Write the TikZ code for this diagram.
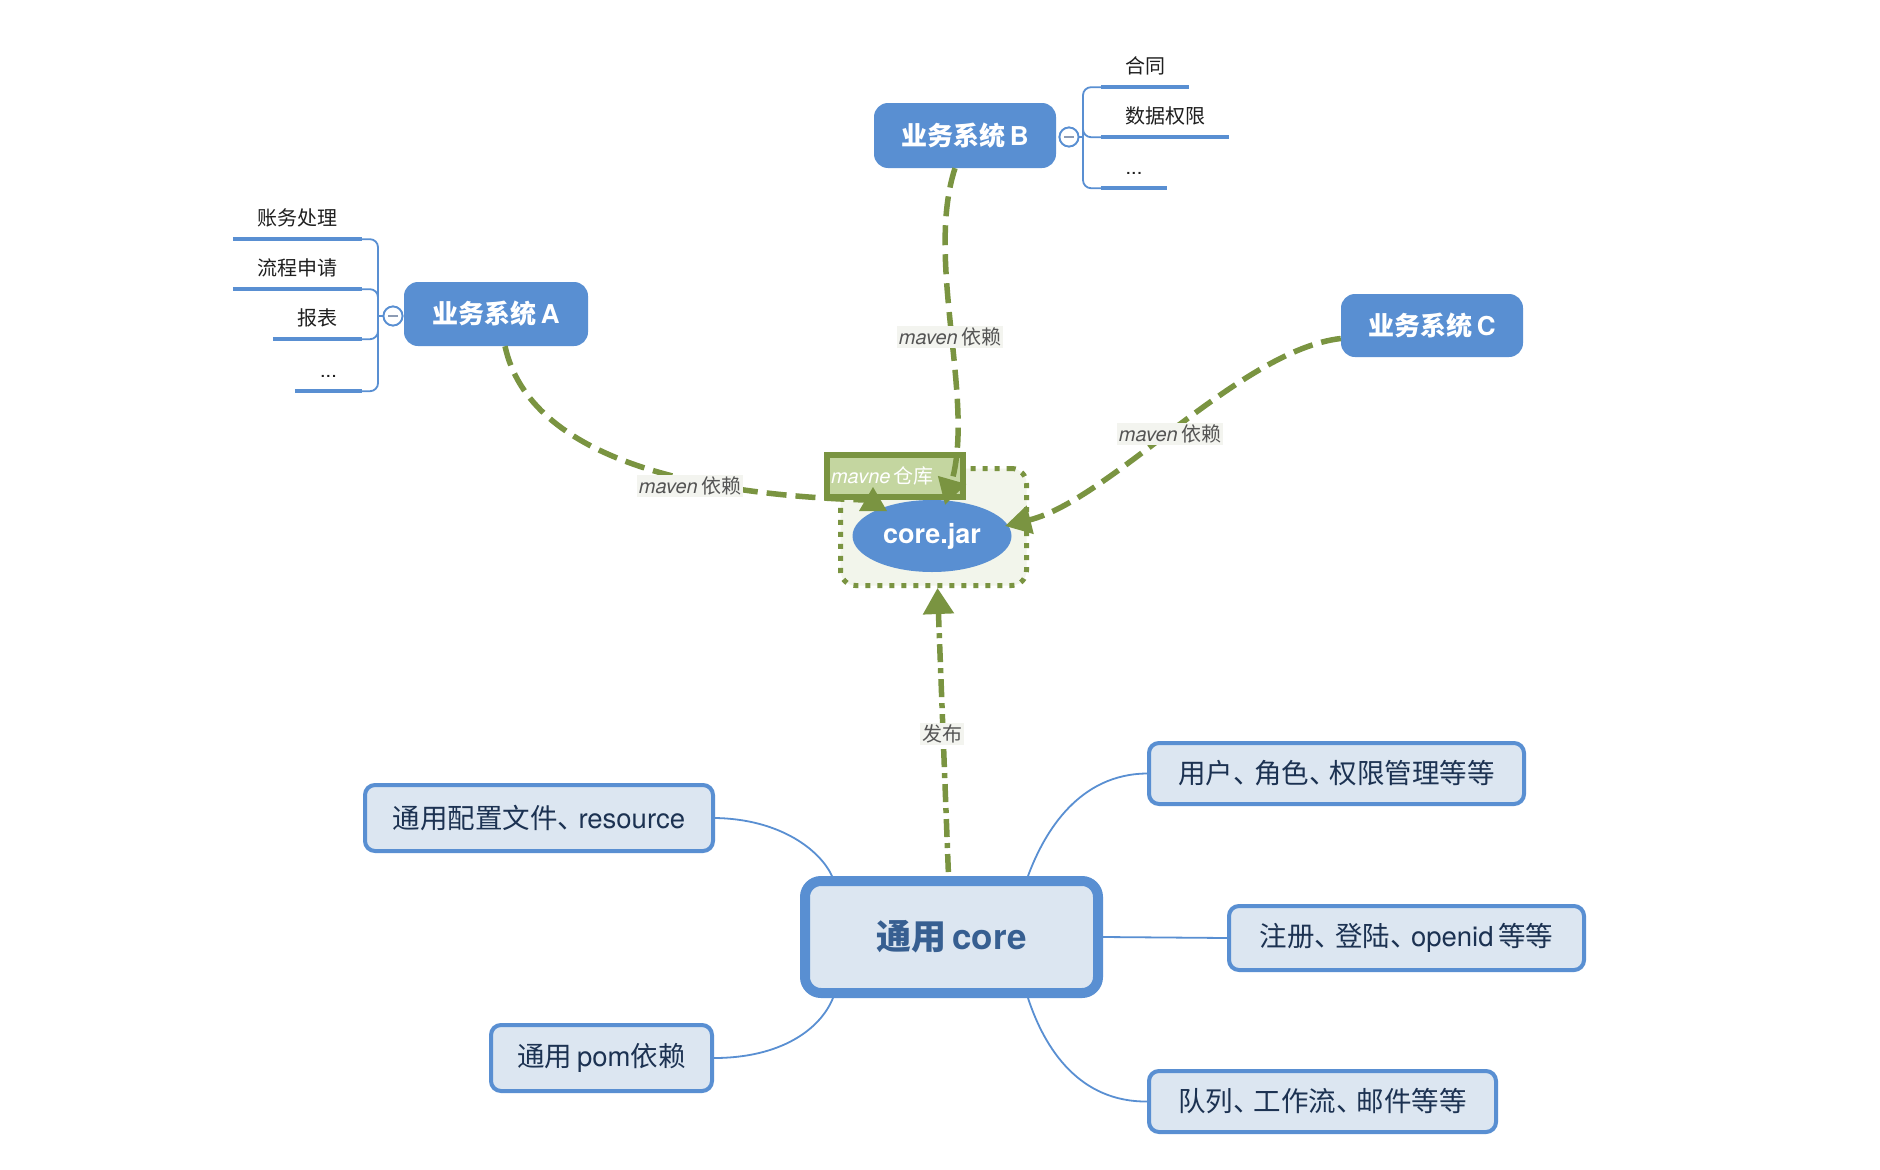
\documentclass[tikz,border=0pt]{standalone}
\usepackage{fontspec}
\setmainfont{TeX Gyre Heros}
\newfontfamily\cjk{Noto Sans CJK SC}
\usetikzlibrary{arrows.meta,shapes.geometric}

\definecolor{nodeblue}{RGB}{89,143,210}
\definecolor{lightfill}{RGB}{220,230,241}
\definecolor{navy}{RGB}{28,50,82}
\definecolor{corenavy}{RGB}{55,95,145}
\definecolor{mgreen}{RGB}{122,148,65}
\definecolor{lgreen}{RGB}{196,214,160}
\definecolor{boxgreen}{RGB}{242,245,235}
\definecolor{labgrey}{RGB}{85,85,85}
\definecolor{labbg}{RGB}{243,244,239}
\definecolor{minusgrey}{RGB}{140,155,180}

\newcommand\fs[1]{\fontsize{#1}{#1}\selectfont}
\newcommand\dun{、\kern-0.25em}
\pgfdeclarelayer{back}
\pgfdeclarelayer{links}
\pgfsetlayers{back,links,main}

\begin{document}
\begin{tikzpicture}[x=1pt,y=-1pt,
  topbox/.style={fill=nodeblue, rounded corners=14pt, text=white, font=\fs{26}\bfseries, inner sep=0pt},
  subbox/.style={draw=nodeblue, line width=4pt, fill=lightfill, rounded corners=10pt, text=navy, font=\fs{27.5}, inner sep=0pt},
  corebox/.style={draw=nodeblue, line width=10pt, fill=lightfill, rounded corners=16pt, text=corenavy, font=\fs{35}\bfseries, inner sep=0pt, minimum width=293pt, minimum height=112pt},
  child/.style={inner sep=0pt, text height=15pt, text depth=4pt, minimum height=38pt, font=\fs{20}, text=black!88},
  uline/.style={draw=nodeblue, line width=4.5pt},
  bracket/.style={draw=nodeblue, line width=1.8pt, rounded corners=8pt},
  collapse/.style={circle, draw=nodeblue, line width=1.8pt, fill=white, minimum size=19pt, inner sep=0pt},
  minus/.style={draw=minusgrey, line width=2pt},
  branch/.style={draw=nodeblue, line width=1.8pt},
  depline/.style={draw=mgreen, line width=5.5pt, dash pattern=on 20pt off 9pt},
  dep/.style={depline, -{Triangle[length=26pt,width=28pt]}},
  pub/.style={draw=mgreen, line width=5.5pt, dash pattern=on 18pt off 6pt on 5pt off 6pt, -{Triangle[length=26pt,width=30pt]}},
  lab/.style={fill=labbg, inner sep=2pt, text=labgrey, font=\fs{20}},
  dotbox/.style={draw=mgreen, line width=5pt, dash pattern=on 5pt off 7pt, fill=boxgreen, rounded corners=15pt, minimum width=186pt, minimum height=117pt, inner sep=0pt},
  jar/.style={ellipse, fill=nodeblue, minimum width=159pt, minimum height=72pt, inner sep=0pt, text=white, font=\fs{27}\bfseries},
  repo/.style={draw=mgreen, line width=6pt, fill=lgreen, minimum width=136pt, minimum height=42pt, inner sep=0pt, text width=128pt, align=left, text=white, font=\fs{20}}
]
\useasboundingbox (0,0) rectangle (1880,1170);
\begin{pgfonlayer}{back}
  \fill[white] (0,0) rectangle (1880,1170);
\end{pgfonlayer}

% ---------- repository ----------
\node[dotbox] (repobox) at (933.5,527) {};
\node[jar] (jar) at (932,536) {core.jar};
\node[repo] (repo) at (895,476) {\itshape mavne\,{\cjk\upshape 仓库}};

% ---------- business systems ----------
\node[topbox, minimum width=184pt, minimum height=64pt] (sysA) at (496,314) {{\cjk 业务系统}\,A};
\node[topbox, minimum width=182pt, minimum height=65pt] (sysB) at (965,135.5) {{\cjk 业务系统}\,B};
\node[topbox, minimum width=182pt, minimum height=63pt] (sysC) at (1432,325.5) {{\cjk 业务系统}\,C};

% children of A
\node[child, minimum width=129pt] (a1) at (297.5,220) {\cjk 账务处理};
\node[child, minimum width=129pt] (a2) at (297.5,270) {\cjk 流程申请};
\node[child, minimum width=89pt]  (a3) at (317.5,320) {\cjk 报表};
\node[child, minimum width=67pt]  (a4) at (328.5,372) {...};
\foreach \c in {a1,a2,a3,a4} \draw[uline] (\c.south west) -- (\c.south east);
\node[collapse] (colA) at (393,316) {};
\coordinate (brA) at (378,316);
\draw[bracket] (colA.west) -- (brA);
\foreach \c in {a1,a2,a3,a4} \draw[bracket] (brA) |- (\c.south east);
\node[collapse] at (colA) {};
\draw[minus] ([xshift=-5pt]colA.center) -- ([xshift=5pt]colA.center);

% children of B
\node[child, minimum width=88pt]  (b1) at (1145,68) {\cjk 合同};
\node[child, minimum width=128pt] (b2) at (1165,118) {\cjk 数据权限};
\node[child, minimum width=66pt]  (b3) at (1134,169) {...};
\foreach \c in {b1,b2,b3} \draw[uline] (\c.south west) -- (\c.south east);
\node[collapse] (colB) at (1069,137) {};
\coordinate (brB) at (1083,137);
\draw[bracket] (colB.east) -- (brB);
\foreach \c in {b1,b2,b3} \draw[bracket] (brB) |- (\c.south west);
\node[collapse] at (colB) {};
\draw[minus] ([xshift=-5pt]colB.center) -- ([xshift=5pt]colB.center);

% ---------- core and its branches ----------
\node[corebox] (core) at (951.5,937) {{\cjk 通用}\,core};
\node[subbox, minimum width=348pt, minimum height=66pt] (res) at (539,818) {{\cjk 通用配置文件\dun}resource};
\node[subbox, minimum width=221pt, minimum height=66pt] (pom) at (601.5,1058) {{\cjk 通用}\,pom{\cjk 依赖}};
\node[subbox, minimum width=375pt, minimum height=61pt] (user) at (1336.5,773.5) {\cjk 用户\dun 角色\dun 权限管理等等};
\node[subbox, minimum width=355pt, minimum height=64pt] (reg) at (1406.5,938) {{\cjk 注册\dun 登陆\dun}openid\,{\cjk 等等}};
\node[subbox, minimum width=347pt, minimum height=61pt] (queue) at (1322.5,1101.5) {\cjk 队列\dun 工作流\dun 邮件等等};

\begin{pgfonlayer}{links}
  \draw[branch] (res.east) .. controls (780,819) and (820,850) .. ([xshift=32pt]core.north west);
  \draw[branch] (pom.east) .. controls (780,1058) and (820,1030) .. ([xshift=33pt]core.south west);
  \draw[branch] (user.west) .. controls (1080,774) and (1045,830) .. ([xshift=-75pt]core.north east);
  \draw[branch] (core.east) -- (reg.west);
  \draw[branch] ([xshift=-75pt]core.south east) .. controls (1045,1050) and (1080,1102) .. (queue.west);
\end{pgfonlayer}

% ---------- dependencies ----------
\coordinate (tipA) at (873,487);
\coordinate (tipB) at (945,505);
\coordinate (tipC) at (1005,526);
\draw[depline] ([xshift=9pt]sysA.south) .. controls (530,460) and (700,495) .. (866,500);
\fill[mgreen] (tipA) -- ++(-14,24) -- ++(28,0) -- cycle;
\draw[dep] ([xshift=-10pt]sysB.south) .. controls (925,260) and (975,400) .. (tipB);
\draw[dep] ([yshift=-13pt]sysC.west) .. controls (1240,350) and (1110,500) .. (tipC);
\draw[pub, shorten <=4pt] ([xshift=-3pt]core.north) -- ([xshift=4pt]repobox.south);

\node[lab] (labA) at (690,486) {\itshape maven\,{\cjk\upshape 依赖}};
\node[lab] (labB) at (950,337) {\itshape maven\,{\cjk\upshape 依赖}};
\node[lab] (labC) at (1170,434) {\itshape maven\,{\cjk\upshape 依赖}};
\node[lab] (labP) at (942,734) {\cjk 发布};
\end{tikzpicture}
\end{document}
